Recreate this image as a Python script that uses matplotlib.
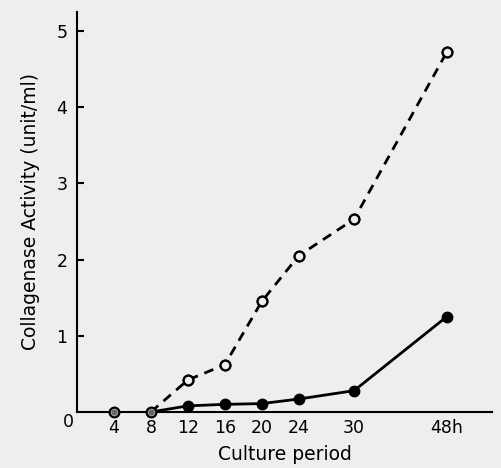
import numpy as np
import matplotlib
matplotlib.use("Agg")
import matplotlib.pyplot as plt

# culture period (h) and collagenase activity (unit/ml)
hours = [4, 8, 12, 16, 20, 24, 30, 48]
activated = [0.0, 0.0, 0.42, 0.62, 1.45, 2.05, 2.53, 4.72]   # open circles, dashed
latent = [0.0, 0.0, 0.08, 0.10, 0.11, 0.17, 0.28, 1.25]      # filled circles, solid
tick_labels = ["4", "8", "12", "16", "20", "24", "30", "48h"]
y_ticks = [1, 2, 3, 4, 5]

bg = "#eeeeec"

# axis is compressed beyond 30 h
def fwd(x):
    x = np.asarray(x, dtype=float)
    return np.where(x <= 30, x, 30 + (x - 30) * 0.557)

def inv(y):
    y = np.asarray(y, dtype=float)
    return np.where(y <= 30, y, 30 + (y - 30) / 0.557)

fig = plt.figure(figsize=(5.01, 4.68), dpi=100, facecolor=bg)
ax = fig.add_axes([0.1537, 0.1197, 0.8283, 0.855])
ax.set_facecolor(bg)
ax.set_xscale("function", functions=(fwd, inv))

ax.plot(hours[1:], activated[1:], color="black", lw=2.0, ls=(0, (3.5, 2.5)), zorder=3)
ax.plot(hours, activated, ls="none", marker="o", ms=7, mfc="#c8c8c6", mec="black",
        mew=1.6, zorder=3, clip_on=False)
ax.plot(hours[1:], latent[1:], color="black", lw=2.0, zorder=2)
ax.plot(hours[2:], latent[2:], ls="none", marker="o", ms=7.5, color="black", zorder=4)
ax.plot(hours[:2], latent[:2], ls="none", marker="o", ms=3.5, color="#666666", zorder=5,
        clip_on=False)
# open circles above zero keep the background fill
ax.plot(hours[2:], activated[2:], ls="none", marker="o", ms=7, mfc=bg, mec="black",
        mew=1.6, zorder=4)

ax.set_xlim(0, 56.8)
ax.set_ylim(0, 5.25)
ax.set_xticks(hours)
ax.set_xticklabels(tick_labels)
ax.set_yticks(y_ticks)
ax.set_yticklabels([str(v) for v in y_ticks])
ax.tick_params(axis="x", length=0, pad=5, labelsize=12.5)
ax.tick_params(axis="y", direction="in", length=5, width=1.5, pad=7, labelsize=12.5)
ax.text(-0.008, -0.025, "0", transform=ax.transAxes, ha="right", va="center", fontsize=12.5)

for s in ["top", "right"]:
    ax.spines[s].set_visible(False)
for s in ["left", "bottom"]:
    ax.spines[s].set_linewidth(1.5)

ax.set_ylabel("Collagenase Activity (unit/ml)", fontsize=13.5, labelpad=12)
ax.set_xlabel("Culture period", fontsize=13.5, labelpad=6)

fig.savefig("out.png", dpi=100, facecolor=bg)
